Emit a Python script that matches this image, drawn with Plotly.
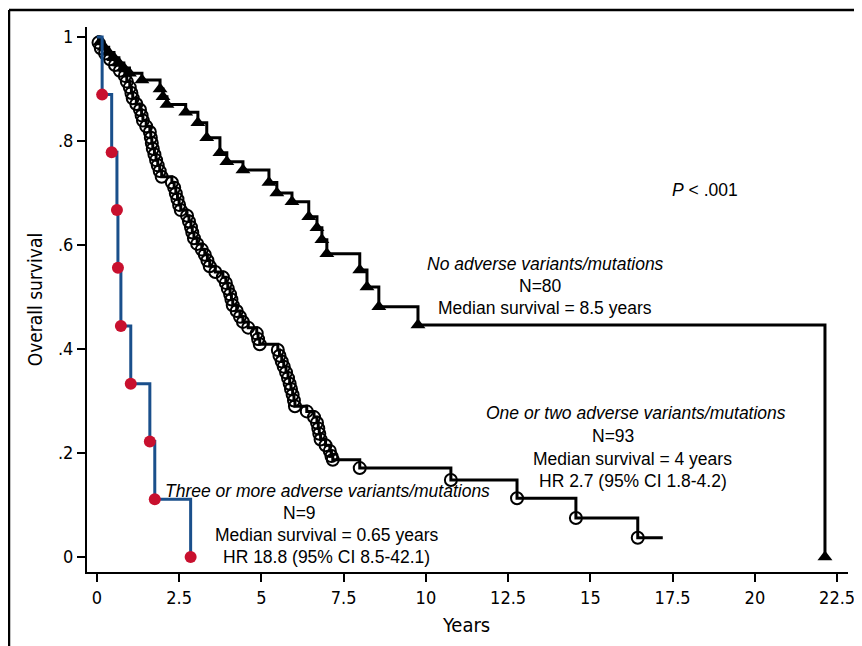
import plotly.graph_objects as go

# ---------------- data ----------------
# No adverse variants/mutations (N=80): event times (years) and survival after each drop
none_t = [0.10, 0.22, 0.36, 0.52, 0.67, 0.82, 0.99, 1.37, 1.92, 2.01, 2.13, 2.70, 3.07, 3.34, 3.74, 3.95, 4.44, 5.23, 5.47, 5.93, 6.44, 6.69, 6.84, 6.99, 7.99, 8.21, 8.57, 9.76, 22.13]
none_s = [0.990, 0.980, 0.970, 0.960, 0.950, 0.940, 0.930, 0.917, 0.900, 0.885, 0.870, 0.855, 0.835, 0.806, 0.777, 0.760, 0.744, 0.720, 0.700, 0.683, 0.654, 0.633, 0.610, 0.583, 0.552, 0.519, 0.481, 0.446, 0.000]

# One or two adverse variants/mutations (N=93)
one_t = [0.05, 0.12, 0.25, 0.40, 0.55, 0.70, 0.85, 0.91, 1.00, 1.05, 1.09, 1.20, 1.31, 1.36, 1.40, 1.50,
         1.61, 1.64, 1.67, 1.70, 1.75, 1.80, 1.85, 1.91, 1.97, 2.28, 2.35, 2.40, 2.45, 2.50, 2.55, 2.74,
         2.80, 2.86, 2.90, 2.95, 3.05, 3.19, 3.28, 3.36, 3.43, 3.60, 3.83, 3.92, 3.98, 4.05, 4.09, 4.13,
         4.25, 4.35, 4.44, 4.60, 4.86, 4.90, 4.95, 5.50, 5.55, 5.62, 5.68, 5.75, 5.81, 5.86, 5.90, 5.95,
         5.99, 6.02, 6.38, 6.60, 6.69, 6.73, 6.76, 6.80, 6.95, 7.08, 7.13, 7.17, 7.99, 10.76, 12.77, 14.56, 16.44]
one_s = [0.989, 0.978, 0.968, 0.957, 0.946, 0.935, 0.925, 0.914, 0.903, 0.892, 0.882, 0.871, 0.860, 0.849, 0.839, 0.828,
         0.817, 0.806, 0.796, 0.785, 0.774, 0.763, 0.753, 0.742, 0.731, 0.720, 0.710, 0.699, 0.688, 0.677, 0.667, 0.656,
         0.645, 0.634, 0.624, 0.613, 0.602, 0.591, 0.581, 0.570, 0.559, 0.548, 0.538, 0.527, 0.516, 0.505, 0.495, 0.484,
         0.473, 0.462, 0.452, 0.441, 0.430, 0.419, 0.409, 0.398, 0.387, 0.376, 0.366, 0.355, 0.344, 0.333, 0.323, 0.312,
         0.301, 0.290, 0.280, 0.269, 0.258, 0.247, 0.237, 0.226, 0.215, 0.204, 0.194, 0.187, 0.171, 0.148, 0.113, 0.075, 0.037]
one_end = 17.2

# Three or more adverse variants/mutations (N=9)
three_t = [0.16, 0.45, 0.61, 0.64, 0.73, 1.03, 1.61, 1.76, 2.85]
three_s = [0.889, 0.778, 0.667, 0.556, 0.444, 0.333, 0.222, 0.111, 0.000]

x_ticks = [0, 2.5, 5, 7.5, 10, 12.5, 15, 17.5, 20, 22.5]
x_tick_labels = ["0", "2.5", "5", "7.5", "10", "12.5", "15", "17.5", "20", "22.5"]
y_ticks = [0, 0.2, 0.4, 0.6, 0.8, 1.0]
y_tick_labels = ["0", ".2", ".4", ".6", ".8", "1"]
x_title = "Years"
y_title = "Overall survival"

none_labels = ["<i>No adverse variants/mutations</i>", "N=80", "Median survival = 8.5 years"]
one_labels = ["<i>One or two adverse variants/mutations</i>", "N=93", "Median survival = 4 years", "HR 2.7 (95% CI 1.8-4.2)"]
three_labels = ["<i>Three or more adverse variants/mutations</i>", "N=9", "Median survival = 0.65 years", "HR 18.8 (95% CI 8.5-42.1)"]
p_label = "<i>P</i> < .001"

# ---------------- figure ----------------
BLACK = "#000000"
BLUE = "#1a4f8b"
RED = "#c8102e"
COND = "Noto Sans Condensed, DejaVu Sans Condensed, Liberation Sans Narrow, Liberation Sans, Arial, sans-serif"
TXT = "Liberation Sans, Arial, Helvetica, sans-serif"

fig = go.Figure()

def km_line(t, s, color, end=None):
    xs = [0] + list(t)
    ys = [1.0] + list(s)
    if end is not None:
        xs.append(end)
        ys.append(s[-1])
    return go.Scatter(x=xs, y=ys, mode="lines", line=dict(color=color, width=3, shape="hv"),
                      hoverinfo="skip", showlegend=False)

# one or two
fig.add_trace(km_line(one_t, one_s, BLACK, one_end))
fig.add_trace(go.Scatter(x=one_t, y=one_s, mode="markers",
                         marker=dict(symbol="circle-open", size=12, color=BLACK, line=dict(width=2)),
                         showlegend=False))
# none
fig.add_trace(km_line(none_t, none_s, BLACK))
fig.add_trace(go.Scatter(x=none_t, y=none_s, mode="markers",
                         marker=dict(symbol="triangle-up", size=13, color=BLACK),
                         showlegend=False))
# three or more
fig.add_trace(km_line(three_t, three_s, BLUE))
fig.add_trace(go.Scatter(x=three_t, y=three_s, mode="markers",
                         marker=dict(symbol="circle", size=12, color=RED),
                         showlegend=False))

def add_block(lines, xs, ys):
    for txt, x, y in zip(lines, xs, ys):
        fig.add_annotation(x=x, y=y, xref="x", yref="y", text=txt, showarrow=False,
                           font=dict(family=TXT, size=17.5, color=BLACK), xanchor="center", yanchor="middle")

add_block(none_labels, [13.65, 13.47, 13.62], [0.563, 0.521, 0.479])
add_block(one_labels, [16.38, 15.68, 16.29, 16.29], [0.277, 0.233, 0.188, 0.146])
add_block(three_labels, [7.02, 6.17, 6.99, 6.99], [0.127, 0.085, 0.042, 0.0])
add_block([p_label], [18.48], [0.706])

# axis titles
fig.add_annotation(x=0.498, y=-0.097, xref="paper", yref="paper", text=x_title, showarrow=False,
                   font=dict(family=COND, size=20, color=BLACK), xanchor="center", yanchor="middle")
fig.add_annotation(x=-0.068, y=0.499, xref="paper", yref="paper", text=y_title, showarrow=False, textangle=-90,
                   font=dict(family=COND, size=19, color=BLACK), xanchor="center", yanchor="middle")

# outer frame (cropped box)
fig.add_shape(type="line", xref="paper", yref="paper", x0=-0.1025, x1=1.03, y0=1.031, y1=1.031,
              line=dict(color=BLACK, width=2.5))
fig.add_shape(type="line", xref="paper", yref="paper", x0=-0.1025, x1=-0.1025, y0=1.031, y1=-0.15,
              line=dict(color=BLACK, width=2.5))

# the page body adds an 8px offset, so the figure is sized to the remaining area
fig.update_layout(
    width=854, height=638,
    margin=dict(l=79, r=14, t=19, b=74, autoexpand=False),
    paper_bgcolor="white", plot_bgcolor="white",
    showlegend=False,
)
fig.update_xaxes(range=[-0.30, 22.83], tickvals=x_ticks, ticktext=x_tick_labels, automargin=False,
                 showline=True, linecolor=BLACK, linewidth=2, ticks="outside", ticklen=8, tickwidth=2,
                 tickcolor=BLACK, showgrid=False, zeroline=False,
                 tickfont=dict(family=COND, size=18, color=BLACK))
fig.update_yaxes(range=[-0.0288, 1.019], tickvals=y_ticks, ticktext=y_tick_labels, automargin=False,
                 showline=True, linecolor=BLACK, linewidth=2, ticks="outside", ticklen=8, tickwidth=2,
                 tickcolor=BLACK, showgrid=False, zeroline=False,
                 tickfont=dict(family=COND, size=18, color=BLACK))

fig.write_html("out.html")
